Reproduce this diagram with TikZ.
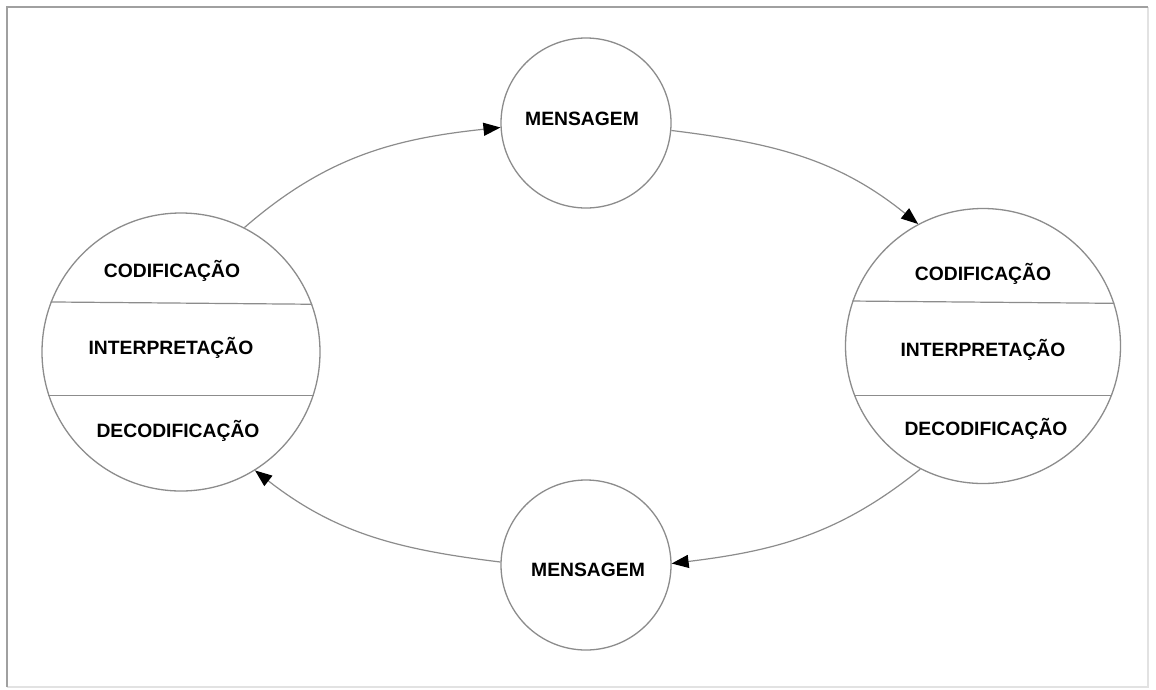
\documentclass[tikz,border=0pt]{standalone}
\usepackage{fontspec}
\setmainfont{Liberation Sans}
\usetikzlibrary{arrows.meta}
\definecolor{edge}{HTML}{8C8C8C}
\definecolor{framedark}{HTML}{A0A0A0}
\definecolor{framelight}{HTML}{E2E2E2}
\begin{document}
\begin{tikzpicture}[x=1pt,y=-1pt,
  ring/.style={circle, draw=edge, line width=1.3pt, minimum size=#1, inner sep=0pt},
  lbl/.style={font=\fontsize{19.3}{23}\selectfont\bfseries, inner sep=0pt, anchor=base},
  link/.style={draw=edge, line width=1.2pt, -{Triangle[length=17pt,width=13pt,black]}},
  chord/.style={draw=edge, line width=1.2pt}]
\useasboundingbox (0,0) rectangle (1156,689);
\fill[white] (0,0) rectangle (1156,689);
% frame
\draw[framelight, line width=1.5pt] (7,687) -- (1148,687) -- (1148,7);
\draw[framedark, line width=2pt] (7,687) -- (7,7) -- (1148,7);
% circles
\node[ring=278pt] (L) at (181,352) {};
\node[ring=275pt] (R) at (983,346) {};
\node[ring=170pt] (T) at (586,123) {};
\node[ring=170pt] (B) at (586,565) {};
% chords
\draw[chord] (L.159.4) -- (L.20.6);
\draw[chord] (L.198.9) -- (L.-18.9);
\draw[chord] (R.161.8) -- (R.18.2);
\draw[chord] (R.201.8) -- (R.-21.8);
% labels
\node[lbl] (Lc) at (172,277) {CODIFICAÇÃO};
\node[lbl] (Li) at (171,354) {INTERPRETAÇÃO};
\node[lbl] (Ld) at (178,437) {DECODIFICAÇÃO};
\node[lbl] (Rc) at (983,280) {CODIFICAÇÃO};
\node[lbl] (Ri) at (983,356) {INTERPRETAÇÃO};
\node[lbl] (Rd) at (986,435) {DECODIFICAÇÃO};
\node[lbl] (Tm) at (582,125) {MENSAGEM};
\node[lbl] (Bm) at (588,576) {MENSAGEM};
% connectors
\draw[link] (L.63) to[out=41,in=186] (T.183);
\draw[link] (T.-5) to[out=-7,in=141] (R.118);
\draw[link] (R.243) to[out=219,in=7] (B.1);
\draw[link] (B.178) to[out=173,in=-38] (L.-58);
\end{tikzpicture}
\end{document}
